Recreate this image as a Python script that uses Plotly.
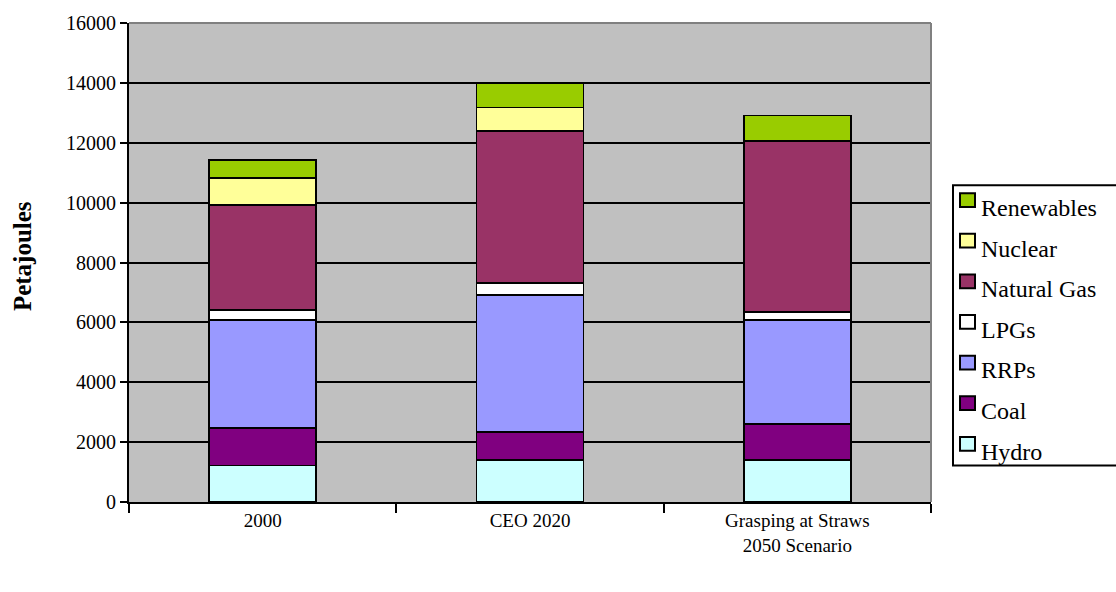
import plotly.graph_objects as go

# Scenario categories on the x axis
categories = ["2000", "CEO 2020", "Grasping at Straws<br>2050 Scenario"]

# Energy supply by fuel, petajoules (stacked bottom to top)
hydro = [1215, 1410, 1410]
coal = [1260, 920, 1195]
rrps = [3610, 4580, 3470]
lpgs = [330, 400, 265]
natural_gas = [3505, 5075, 5710]
nuclear = [910, 790, 0]
renewables = [590, 800, 860]

series = [
    ("Hydro", hydro, "#CCFFFF"),
    ("Coal", coal, "#800080"),
    ("RRPs", rrps, "#9999FF"),
    ("LPGs", lpgs, "#FFFFFF"),
    ("Natural Gas", natural_gas, "#993366"),
    ("Nuclear", nuclear, "#FFFF99"),
    ("Renewables", renewables, "#99CC00"),
]

y_ticks = list(range(0, 16001, 2000))

W, H = 1116, 592
ML, MR, MT, MB = 129, 185, 15, 90
PW, PH = W - ML - MR, H - MT - MB


def px(x):
    """Pixel column -> paper x."""
    return (x - ML) / PW


def py(y):
    """Pixel row -> paper y."""
    return (H - MB - y) / PH


fig = go.Figure()
for name, vals, color in series:
    fig.add_trace(go.Bar(
        x=categories, y=vals, name=name, showlegend=False,
        marker=dict(color=color, line=dict(color="black", width=1.6)),
    ))

serif = "Liberation Serif, Times New Roman, serif"

fig.update_layout(
    width=W, height=H,
    margin=dict(l=ML, r=MR, t=MT, b=MB),
    barmode="stack", bargap=0.6,
    paper_bgcolor="white", plot_bgcolor="#C0C0C0",
    font=dict(family=serif, size=20, color="black"),
    xaxis=dict(
        showline=True, linecolor="black", linewidth=2,
        ticks="outside", tickson="boundaries", ticklen=9, tickwidth=2, tickcolor="black",
        showgrid=False, tickfont=dict(family=serif, size=19),
    ),
    yaxis=dict(
        range=[0, 16000], tickvals=y_ticks, tickformat="d",
        showline=True, linecolor="black", linewidth=2,
        ticks="outside", ticklen=7, tickwidth=2, tickcolor="black",
        showgrid=True, gridcolor="black", gridwidth=1.6,
        zeroline=False, tickfont=dict(family=serif, size=20),
    ),
)

# Axis title, rotated, at the far left
fig.add_annotation(
    text="<b>Petajoules</b>", textangle=-90, showarrow=False,
    xref="paper", yref="paper", x=px(22), y=py(252),
    xanchor="center", yanchor="middle",
    font=dict(family=serif, size=25, color="black"),
)

# Grey frame on the top and right sides of the plotting area
fig.add_shape(type="line", xref="paper", yref="paper", x0=0, x1=1, y0=1, y1=1,
              line=dict(color="#808080", width=2), layer="above")
fig.add_shape(type="line", xref="paper", yref="paper", x0=1, x1=1, y0=0, y1=1,
              line=dict(color="#808080", width=2), layer="above")

# Legend box with swatches, top entry = top of the stack
fig.add_shape(type="rect", xref="paper", yref="paper",
              x0=px(953), x1=px(1130), y0=py(465), y1=py(180),
              line=dict(color="black", width=2), fillcolor="white", layer="above")
step = 41.3
for i, (name, vals, color) in enumerate(reversed(series)):
    top = 188 + step * i
    fig.add_shape(type="rect", xref="paper", yref="paper",
                  x0=px(960), x1=px(975), y0=py(top + 14), y1=py(top),
                  line=dict(color="black", width=2), fillcolor=color, layer="above")
    fig.add_annotation(
        text=name, showarrow=False, xref="paper", yref="paper",
        x=px(979), y=py(203 + step * i), xanchor="left", yanchor="middle",
        font=dict(family=serif, size=24, color="black"),
    )

fig.write_html("out.html")
